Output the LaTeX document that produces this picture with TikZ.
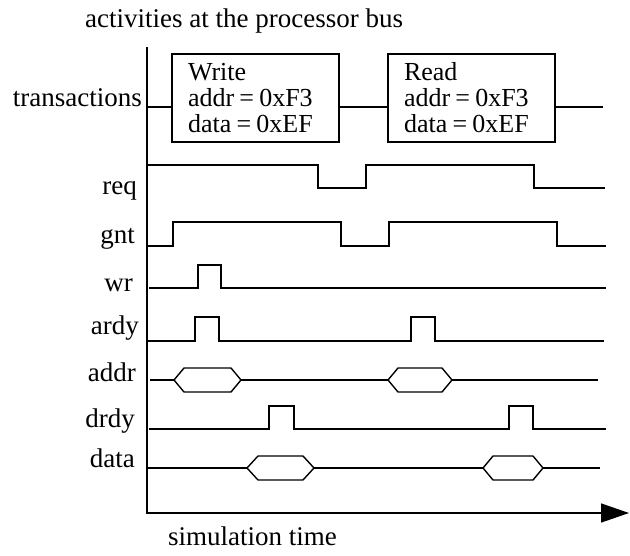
\documentclass[tikz,border=0pt]{standalone}
\usepackage{fontspec}
\setmainfont{Liberation Serif}
\newfontfamily\boxfont{Liberation Serif}[WordSpace=0.8]
\usetikzlibrary{arrows.meta}

\tikzset{
  lbl/.style={anchor=base east, inner sep=0pt, font=\fontsize{27}{27}\selectfont},
  caption/.style={anchor=base west, inner sep=0pt, font=\fontsize{27}{27}\selectfont},
  trans/.style={draw, line width=1.4pt, minimum width=167pt, minimum height=88pt,
    text width=135pt, inner xsep=16pt, align=flush left,
    font=\boxfont\fontsize{26}{26}\selectfont},
  wave/.style={line width=1.4pt, line join=miter},
  axis/.style={line width=1.4pt, -{Triangle[length=28pt,width=19pt]}}
}

% bus value: level y, left point, left corner, right corner, right point
\newcommand\busvalue[5]{%
  \draw[wave] (#2,#1) -- (#3,#1-12) -- (#4,#1-12) -- (#5,#1) -- (#4,#1+12) -- (#3,#1+12) -- cycle;}

\begin{document}
\begin{tikzpicture}[x=1pt, y=-1pt]
\useasboundingbox (0,0) rectangle (630,555);

% axes
\coordinate (top) at (147,47);
\coordinate (origin) at (147,513);
\coordinate (tip) at (629,513);
\draw[axis] (top) -- (origin) -- (tip);

\node[caption] (title) at (85,27) {activities at the processor bus};
\node[caption] (xlabel) at (168,545) {simulation time};

% signal names
\node[lbl] (ltrans) at (142,106) {transactions};
\node[lbl] (lreq)   at (137,194) {req};
\node[lbl] (lgnt)   at (135,243) {gnt};
\node[lbl] (lwr)    at (133,291) {wr};
\node[lbl] (lardy)  at (139,334) {ardy};
\node[lbl] (laddr)  at (136,381) {addr};
\node[lbl] (ldrdy)  at (135,427) {drdy};
\node[lbl] (ldata)  at (135,467) {data};

% transactions
\node[trans] (write) at (255.5,98) {Write\\addr = 0xF3\\data = 0xEF};
\node[trans] (read)  at (471.5,98) {Read\\addr = 0xF3\\data = 0xEF};
\coordinate (t0) at (148,107);
\coordinate (t1) at (603,107);
\draw[wave] (t0) -- (t0 -| write.west);
\draw[wave] (t0 -| write.east) -- (t0 -| read.west);
\draw[wave] (t0 -| read.east) -- (t1);

% req
\draw[wave] (148,165) -- (318,165) -- (318,188) -- (366,188) -- (366,165)
  -- (534,165) -- (534,188) -- (605,188);
% gnt
\draw[wave] (148,246) -- (173,246) -- (173,222) -- (341,222) -- (341,246)
  -- (389,246) -- (389,222) -- (557,222) -- (557,246) -- (606,246);
% wr
\draw[wave] (149,288) -- (198,288) -- (198,265) -- (221,265) -- (221,288) -- (606,288);
% ardy
\draw[wave] (147,341) -- (195,341) -- (195,317) -- (219,317) -- (219,341)
  -- (411,341) -- (411,317) -- (435,317) -- (435,341) -- (604,341);
% addr
\draw[wave] (150,380) -- (174,380);
\busvalue{380}{174}{184}{231}{241}
\draw[wave] (241,380) -- (388,380);
\busvalue{380}{388}{398}{442}{452}
\draw[wave] (452,380) -- (598,380);
% drdy
\draw[wave] (149,429) -- (269,429) -- (269,406) -- (294,406) -- (294,429)
  -- (509,429) -- (509,406) -- (533,406) -- (533,429) -- (606,429);
% data
\draw[wave] (147,468) -- (247,468);
\busvalue{468}{247}{258}{303}{314}
\draw[wave] (314,468) -- (483,468);
\busvalue{468}{483}{493}{533}{543}
\draw[wave] (543,468) -- (600,468);
\end{tikzpicture}
\end{document}
